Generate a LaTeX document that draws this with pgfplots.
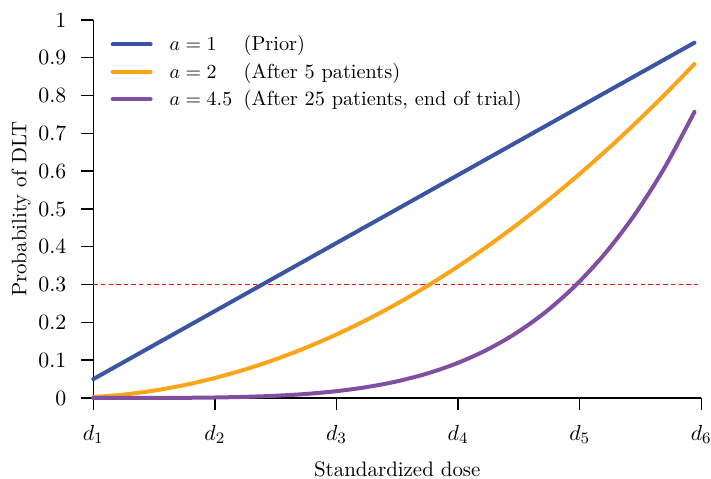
\documentclass[border=0pt]{standalone}
\usepackage{pgfplots}
\pgfplotsset{compat=1.18}
\usepackage{pgfplotstable}

\definecolor{cblue}{RGB}{59,84,164}
\definecolor{corange}{RGB}{250,165,26}
\definecolor{cpurple}{RGB}{128,79,161}

% dose position, P(DLT) for a = 1, 2, 4.5
\pgfplotstableread{
x       a1      a2       a45
1.0000  0.0500  0.00250  0.000001
1.2472  0.0945  0.00893  0.000025
1.4944  0.1390  0.01932  0.000139
1.7416  0.1835  0.03367  0.000486
1.9888  0.2280  0.05198  0.00129
2.2360  0.2725  0.07426  0.00288
2.4832  0.3170  0.10049  0.00569
2.7304  0.3615  0.13068  0.01027
2.9776  0.4060  0.16484  0.01731
3.2248  0.4505  0.20295  0.02765
3.4720  0.4950  0.24503  0.04224
3.7192  0.5395  0.29106  0.06222
3.9664  0.5840  0.34106  0.08889
4.2136  0.6285  0.39501  0.12370
4.4608  0.6730  0.45293  0.16830
4.7080  0.7175  0.51481  0.22450
4.9552  0.7620  0.58064  0.29430
5.2024  0.8065  0.65044  0.37996
5.4496  0.8510  0.72420  0.48382
5.6968  0.8955  0.80192  0.60855
5.9440  0.9400  0.88360  0.75697
}\dlt

\begin{document}
\begin{tikzpicture}
\useasboundingbox (0,0) rectangle (355.5bp,239.5bp);
\begin{axis}[
    at={(46.65bp,40.5bp)}, anchor=south west,
    scale only axis,
    width=304bp, height=189bp,
    xmin=1, xmax=6, ymin=0, ymax=1,
    axis x line=bottom, axis y line=left,
    axis line style={-, line width=0.7bp},
    tick style={black, line width=0.7bp},
    tick align=outside,
    major tick length=6bp,
    xtick={1,2,3,4,5,6},
    xticklabels={$d_1$,$d_2$,$d_3$,$d_4$,$d_5$,$d_6$},
    ytick={0,0.1,...,1},
    yticklabel style={/pgf/number format/fixed, /pgf/number format/precision=1, xshift=-4bp},
    ticklabel style={font=\fontsize{11}{13}\selectfont},
    xticklabel style={yshift=-4bp},
    xlabel={Standardized dose},
    ylabel={Probability of DLT},
    label style={font=\fontsize{10.5}{12}\selectfont},
    xlabel style={yshift=-2.5bp},
    ylabel style={yshift=-3bp},
    clip=false,
    legend style={draw=none, fill=none, at={(0,1)}, anchor=north west,
        xshift=5.5bp, yshift=-3.5bp,
        font=\fontsize{10.2}{12}\selectfont,
        row sep=0.6bp, cells={anchor=west},
        /tikz/every odd column/.append style={column sep=6.5bp}},
    legend image code/.code={\draw[#1] (0bp,0bp) -- (19bp,0bp);},
]
\addplot[red, line width=0.5bp, dash pattern=on 2.2bp off 1.6bp, forget plot]
    coordinates {(1,0.3) (6,0.3)};
\addplot[cblue, line width=2bp, line cap=round, smooth] table[x=x, y=a1] {\dlt};
\addlegendentry{\makebox[37bp][l]{$a = 1$}(Prior)}
\addplot[corange, line width=2bp, line cap=round, smooth] table[x=x, y=a2] {\dlt};
\addlegendentry{\makebox[37bp][l]{$a = 2$}(After 5 patients)}
\addplot[cpurple, line width=2bp, line cap=round, smooth] table[x=x, y=a45] {\dlt};
\addlegendentry{\makebox[37bp][l]{$a = 4.5$}(After 25 patients, end of trial)}
\end{axis}
\end{tikzpicture}
\end{document}
